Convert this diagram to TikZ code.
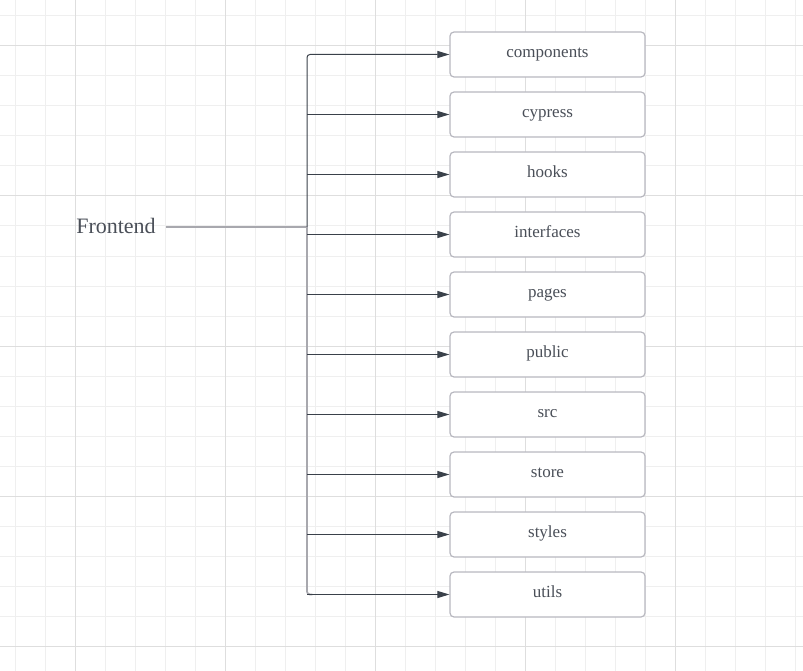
\documentclass[tikz,border=0pt]{standalone}
\usepackage{fontspec}
\setmainfont{Liberation Serif}
\usepackage{tikz}
\usetikzlibrary{positioning, calc, arrows.meta}
\usepackage{xcolor}

\definecolor{gridminor}{HTML}{EFEFEF}
\definecolor{gridmajor}{HTML}{DEDEDE}
\definecolor{boxline}{HTML}{B8B8C0}
\definecolor{inkdark}{HTML}{3A414A}
\definecolor{inkgray}{HTML}{A8A8AE}
\definecolor{textgray}{HTML}{4A4F58}

\tikzset{
  folder/.style={draw=boxline, line width=1.2pt, rounded corners=4pt, fill=white,
    minimum width=195pt, minimum height=45pt, inner sep=0pt,
    text height=10pt, text depth=4pt,
    font=\fontsize{17}{19}\selectfont, text=textgray},
  branch/.style={draw=inkdark, line width=1pt, -{Triangle[length=12pt, width=7pt]}}
}

\begin{document}
\begin{tikzpicture}[x=1pt, y=-1pt]
        \useasboundingbox (0,0) rectangle (803,671);
        % Grid
        \foreach \gx in {15,45,...,795} \draw[gridminor, line width=1pt] (\gx,0) -- (\gx,671);
        \foreach \gy in {16,46,...,666} \draw[gridminor, line width=1pt] (0,\gy) -- (803,\gy);
        \foreach \gx in {75,225,...,675} \draw[gridmajor, line width=1pt] (\gx,0) -- (\gx,671);
        \foreach \gy in {46,196,...,646} \draw[gridmajor, line width=1pt] (0,\gy) -- (803,\gy);
        % Root
        \node[font=\fontsize{22}{24}\selectfont, text=textgray, inner sep=0pt] (frontend) at (116,226) {Frontend};
        \coordinate (joint) at (307,227);
        % Folders
        \foreach \name [count=\i from 0] in {components,cypress,hooks,interfaces,pages,public,src,store,styles,utils} {
          \node[folder] (\name) at (547.5,54.5+60*\i) {\name};
        }
        % Trunk
        \draw[inkgray, line width=1.3pt] ([xshift=10pt]frontend.east |- joint) -- (joint);
        \draw[inkgray, line width=1.8pt, rounded corners=3pt] (joint) |- ([xshift=-137pt]utils.west);
        \draw[branch, rounded corners=3pt] (joint) |- (components.west);
        \foreach \name in {cypress,hooks,interfaces,pages,public,src,store,styles,utils}
          \draw[branch] (joint |- \name.west) -- (\name.west);
    \end{tikzpicture}
\end{document}
